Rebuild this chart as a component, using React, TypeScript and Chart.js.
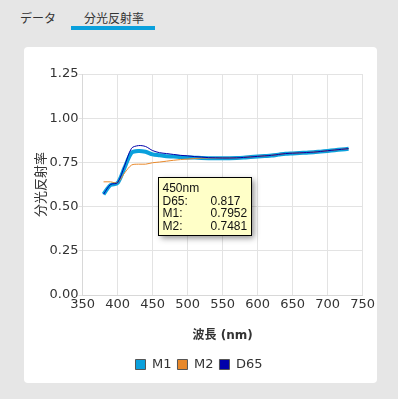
import React, { useEffect, useRef } from "react";
import { Chart, registerables } from "chart.js";

Chart.register(...registerables);

const wavelengths = [380, 390, 400, 410, 420, 430, 440, 450, 460, 470, 480, 490, 500, 510, 520, 530, 540, 550, 560, 570, 580, 590, 600, 610, 620, 630, 640, 650, 660, 670, 680, 690, 700, 710, 720, 730];

const d65 = [0.57, 0.625, 0.635, 0.73, 0.83, 0.845, 0.84, 0.817, 0.805, 0.8, 0.795, 0.79, 0.787, 0.783, 0.78, 0.777, 0.776, 0.775, 0.775, 0.776, 0.778, 0.781, 0.784, 0.787, 0.79, 0.795, 0.8, 0.802, 0.804, 0.806, 0.808, 0.812, 0.816, 0.82, 0.824, 0.828];

const m1 = [0.57, 0.622, 0.633, 0.72, 0.805, 0.815, 0.81, 0.7952, 0.79, 0.785, 0.783, 0.78, 0.778, 0.777, 0.775, 0.774, 0.774, 0.774, 0.774, 0.775, 0.777, 0.78, 0.783, 0.786, 0.789, 0.794, 0.799, 0.801, 0.803, 0.805, 0.807, 0.811, 0.815, 0.819, 0.823, 0.827];

const m2 = [0.64, 0.64, 0.635, 0.69, 0.735, 0.74, 0.74, 0.7481, 0.752, 0.757, 0.762, 0.766, 0.769, 0.772, 0.774, 0.775, 0.775, 0.775, 0.775, 0.776, 0.778, 0.781, 0.784, 0.787, 0.79, 0.795, 0.8, 0.802, 0.804, 0.806, 0.808, 0.812, 0.816, 0.82, 0.824, 0.828];

const seriesNames = ["M1", "M2", "D65"];
const seriesColors = ["#0aa0dc", "#e8882a", "#0000aa"];
const tooltipWavelength = 450;
const tabs = ["データ", "分光反射率"];
const xTitle = "波長 (nm)";
const yTitle = "分光反射率";

const FONT = "'DejaVu Sans', 'Noto Sans CJK JP', sans-serif";

const tooltipPlugin = {
  id: "staticTip",
  afterDraw(chart: any) {
    const idx = wavelengths.indexOf(tooltipWavelength);
    const xs = chart.scales.x;
    const ys = chart.scales.y;
    const px = xs.getPixelForValue(tooltipWavelength);
    const py = ys.getPixelForValue(d65[idx]);
    const left = Math.round(px + 5) + 0.5;
    const top = Math.round(py + 26) + 0.5;
    const w = 93;
    const h = 58;
    const ctx = chart.ctx;
    ctx.save();
    ctx.shadowColor = "rgba(0,0,0,0.45)";
    ctx.shadowBlur = 6;
    ctx.shadowOffsetX = 2;
    ctx.shadowOffsetY = 2;
    ctx.fillStyle = "#ffffc8";
    ctx.fillRect(left, top, w, h);
    ctx.shadowColor = "transparent";
    ctx.strokeStyle = "#000";
    ctx.lineWidth = 1;
    ctx.strokeRect(left, top, w, h);
    ctx.fillStyle = "#111";
    ctx.font = "12px 'Liberation Sans', Arial, sans-serif";
    ctx.textBaseline = "alphabetic";
    const rows: [string, string][] = [
      ["D65:", String(d65[idx])],
      ["M1:", String(m1[idx])],
      ["M2:", String(m2[idx])],
    ];
    ctx.fillText(tooltipWavelength + "nm", left + 4, top + 14);
    rows.forEach((r, i) => {
      ctx.fillText(r[0], left + 4, top + 27 + i * 12.5);
      ctx.fillText(r[1], left + 52, top + 27 + i * 12.5);
    });
    ctx.restore();
  },
};

export default function App() {
  const ref = useRef<HTMLCanvasElement | null>(null);
  useEffect(() => {
    if (!ref.current) return;
    const data = [m1, m2, d65];
    const widths = [4, 1, 1];
    const orders = [2, 1, 0];
    const chart = new Chart(ref.current, {
      type: "line",
      data: {
        datasets: seriesNames.map((name, i) => ({
          label: name,
          data: wavelengths.map((w, j) => ({ x: w, y: data[i][j] })),
          borderColor: seriesColors[i],
          backgroundColor: seriesColors[i],
          borderWidth: widths[i],
          pointRadius: 0,
          tension: 0.3,
          order: orders[i],
        })),
      },
      options: {
        responsive: false,
        animation: false,
        layout: { padding: { top: 27, right: 13, left: 10, bottom: 2 } },
        scales: {
          x: {
            type: "linear",
            min: 350,
            max: 750,
            ticks: { stepSize: 50, color: "#333", font: { family: FONT, size: 13 }, padding: 2 },
            grid: { color: "#e3e3e3", tickLength: 0 },
            border: { color: "#d8d8d8" },
            title: { display: true, text: xTitle, color: "#333", font: { family: FONT, size: 12, weight: "bold" }, padding: { top: 14, bottom: 9 } },
          },
          y: {
            min: 0,
            max: 1.25,
            ticks: { stepSize: 0.25, color: "#333", font: { family: FONT, size: 13 }, padding: 0, callback: (v: any) => Number(v).toFixed(2) },
            grid: { color: "#e3e3e3", tickLength: 4 },
            border: { color: "#d8d8d8" },
            title: { display: true, text: yTitle, color: "#333", font: { family: FONT, size: 13 }, padding: { top: 0, bottom: 0 } },
          },
        },
        plugins: {
          tooltip: { enabled: false },
          legend: {
            position: "bottom",
            labels: {
              boxWidth: 10,
              boxHeight: 10,
              color: "#333",
              padding: 6,
              font: { family: FONT, size: 13 },
              sort: (a: any, b: any) => a.datasetIndex - b.datasetIndex,
              generateLabels: (c: any) =>
                Chart.defaults.plugins.legend.labels.generateLabels(c).map((l: any) => ({ ...l, strokeStyle: "#555", lineWidth: 1 })),
            },
          },
        },
      },
      plugins: [tooltipPlugin],
    } as any);
    return () => chart.destroy();
  }, []);

  return (
    <div style={{ position: "fixed", inset: 0, background: "#e6e6e6", fontFamily: FONT }}>
      <div style={{ position: "absolute", left: 20, top: 9, fontSize: 12, color: "#333" }}>{tabs[0]}</div>
      <div style={{ position: "absolute", left: 84, top: 9, fontSize: 12, color: "#333" }}>{tabs[1]}</div>
      <div style={{ position: "absolute", left: 71, top: 26, width: 84, height: 4, background: "#0aa0dc" }} />
      <div style={{ position: "absolute", left: 24, top: 47, width: 353, height: 336, background: "#fff", borderRadius: 4 }}>
        <canvas ref={ref} width={353} height={336} style={{ display: "block" }} />
      </div>
    </div>
  );
}
